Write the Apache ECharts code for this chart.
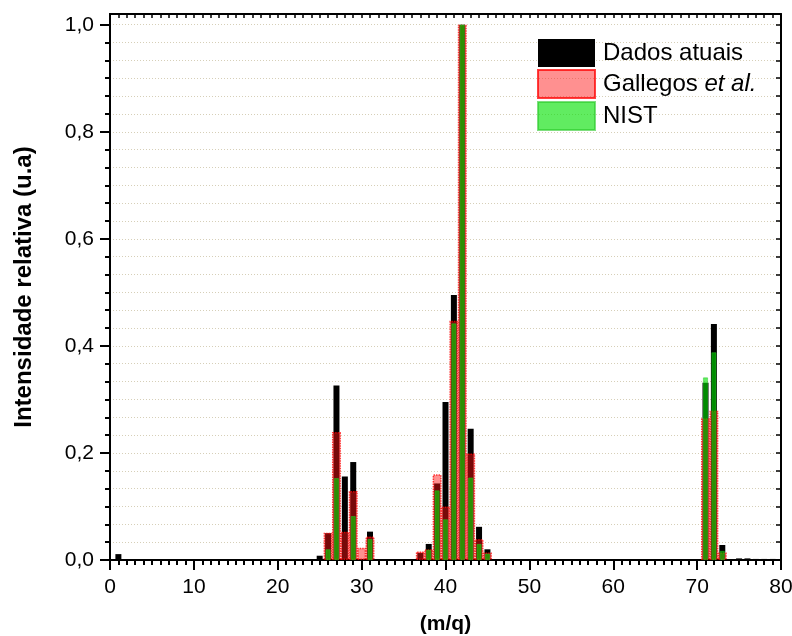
<!DOCTYPE html>
<html>
<head>
<meta charset="utf-8">
<script src="https://cdn.jsdelivr.net/npm/echarts@6/dist/echarts.min.js"></script>
<style>
  html, body { margin: 0; padding: 0; background: #fff; }
  #chart { width: 792px; height: 636px; }
</style>
</head>
<body>
<div id="chart"></div>
<script>
// Mass spectrum: relative intensity per m/q for three sources
const mzAtuais = [1, 25, 26, 27, 28, 29, 31, 37, 38, 39, 40, 41, 42, 43, 44, 45, 71, 72, 73, 75, 76, 77, 78, 79];
const intAtuais = [0.011, 0.008, 0.050, 0.326, 0.156, 0.183, 0.053, 0.013, 0.030, 0.143, 0.295, 0.495, 1.000, 0.245, 0.062, 0.020, 0.331, 0.441, 0.028, 0.003, 0.003, 0.002, 0.002, 0.002];

const mzGallegos = [26, 27, 28, 29, 30, 31, 37, 38, 39, 40, 41, 42, 43, 44, 45, 71, 72, 73];
const intGallegos = [0.051, 0.239, 0.053, 0.129, 0.023, 0.044, 0.016, 0.020, 0.160, 0.100, 0.447, 1.000, 0.199, 0.039, 0.014, 0.265, 0.279, 0.014];

const mzNist = [26, 27, 29, 31, 38, 39, 40, 41, 42, 43, 44, 45, 71, 72, 73];
const intNist = [0.020, 0.153, 0.082, 0.039, 0.019, 0.130, 0.076, 0.442, 1.000, 0.154, 0.030, 0.012, 0.341, 0.388, 0.017];

const seriesNames = ['Dados atuais', 'Gallegos et al.', 'NIST'];

// Tick positions
const yMajorTicks = [0, 0.2, 0.4, 0.6, 0.8, 1.0];
const yMinorTicks = [];
for (let k = 0; k <= 30; k++) yMinorTicks.push(k / 30);
const xTopTicks = [];
for (let k = 0; k <= 80; k++) xTopTicks.push(k);

const FONT = '"Liberation Sans", Arial, Helvetica, sans-serif';
const AXIS_LINE = { onZero: false, lineStyle: { color: '#000', width: 2 } };
const GRID_LINE = { color: '#d6cfb8', type: [1, 2], width: 1 };

const pairs = (xs, ys) => xs.map((x, i) => [x, ys[i]]);

const chart = echarts.init(document.getElementById('chart'), null, { renderer: 'canvas' });

chart.setOption({
  animation: false,
  backgroundColor: '#fff',
  grid: { left: 110, right: 11, top: 14, bottom: 76, containLabel: false, outerBoundsMode: 'none' },
  legend: {
    orient: 'vertical',
    left: 532,
    top: 34,
    itemWidth: 57,
    itemHeight: 28,
    itemGap: 2,
    icon: 'rect',
    data: seriesNames,
    textStyle: {
      fontFamily: FONT, fontSize: 24, color: '#000', padding: [0, 0, 0, 3],
      rich: { i: { fontFamily: FONT, fontSize: 24, fontStyle: 'italic', color: '#000' } }
    },
    formatter: name => name === 'Gallegos et al.' ? 'Gallegos {i|et al.}' : name
  },
  xAxis: [
    {
      type: 'value', min: 0, max: 80, interval: 10, position: 'bottom',
      axisLine: AXIS_LINE,
      axisTick: { show: true, length: 10, lineStyle: { color: '#000', width: 2 } },
      minorTick: { show: true, splitNumber: 10, length: 5, lineStyle: { color: '#000', width: 2 } },
      axisLabel: { color: '#000', fontSize: 21, fontFamily: FONT, margin: 17 },
      splitLine: { show: false },
      name: '(m/q)', nameLocation: 'middle', nameGap: 54,
      nameTextStyle: { fontFamily: FONT, fontSize: 21, fontWeight: 'bold', color: '#000' }
    },
    {
      type: 'value', min: 0, max: 80, position: 'top',
      axisLine: AXIS_LINE,
      axisTick: { show: true, inside: true, length: 4, customValues: xTopTicks, lineStyle: { color: '#000', width: 1.5 } },
      axisLabel: { show: false },
      splitLine: { show: false }
    },
    { type: 'value', min: 0, max: 80, show: false }
  ],
  yAxis: [
    {
      type: 'value', min: 0, max: 1.02, position: 'left',
      axisLine: AXIS_LINE,
      axisTick: { show: true, length: 5, customValues: yMinorTicks, lineStyle: { color: '#000', width: 2 } },
      axisLabel: {
        customValues: yMajorTicks, color: '#000', fontSize: 21, fontFamily: FONT, margin: 16,
        formatter: v => v.toFixed(1).replace('.', ',')
      },
      splitLine: { show: true, lineStyle: GRID_LINE },
      name: 'Intensidade relativa (u.a)', nameLocation: 'middle', nameGap: 74,
      nameTextStyle: { fontFamily: FONT, fontSize: 24, fontWeight: 'bold', color: '#000' }
    },
    {
      type: 'value', min: 0, max: 1.02, position: 'left',
      axisLine: AXIS_LINE,
      axisTick: { show: true, length: 10, customValues: yMajorTicks, lineStyle: { color: '#000', width: 2 } },
      axisLabel: { show: false },
      splitLine: { show: false }
    },
    {
      type: 'value', min: 0, max: 1.02, position: 'right',
      axisLine: AXIS_LINE,
      axisTick: { show: true, inside: true, length: 5, customValues: yMinorTicks, lineStyle: { color: '#000', width: 1.5 } },
      axisLabel: { show: false },
      splitLine: { show: false }
    }
  ],
  series: [
    {
      name: seriesNames[0], type: 'bar', xAxisIndex: 0, yAxisIndex: 0, barWidth: 6,
      itemStyle: { color: '#000' },
      data: pairs(mzAtuais, intAtuais)
    },
    {
      name: seriesNames[1], type: 'bar', xAxisIndex: 1, yAxisIndex: 0, barWidth: 9,
      itemStyle: {
        color: 'rgba(255,20,20,0.47)',
        borderColor: 'rgba(255,0,0,0.75)', borderWidth: 1.5, borderType: [1.5, 1]
      },
      data: pairs(mzGallegos, intGallegos)
    },
    {
      name: seriesNames[2], type: 'bar', xAxisIndex: 2, yAxisIndex: 0, barWidth: 5,
      itemStyle: {
        color: 'rgba(0,225,0,0.62)',
        borderColor: 'rgba(40,200,40,0.6)', borderWidth: 0.8
      },
      data: pairs(mzNist, intNist)
    }
  ]
});
</script>
</body>
</html>
